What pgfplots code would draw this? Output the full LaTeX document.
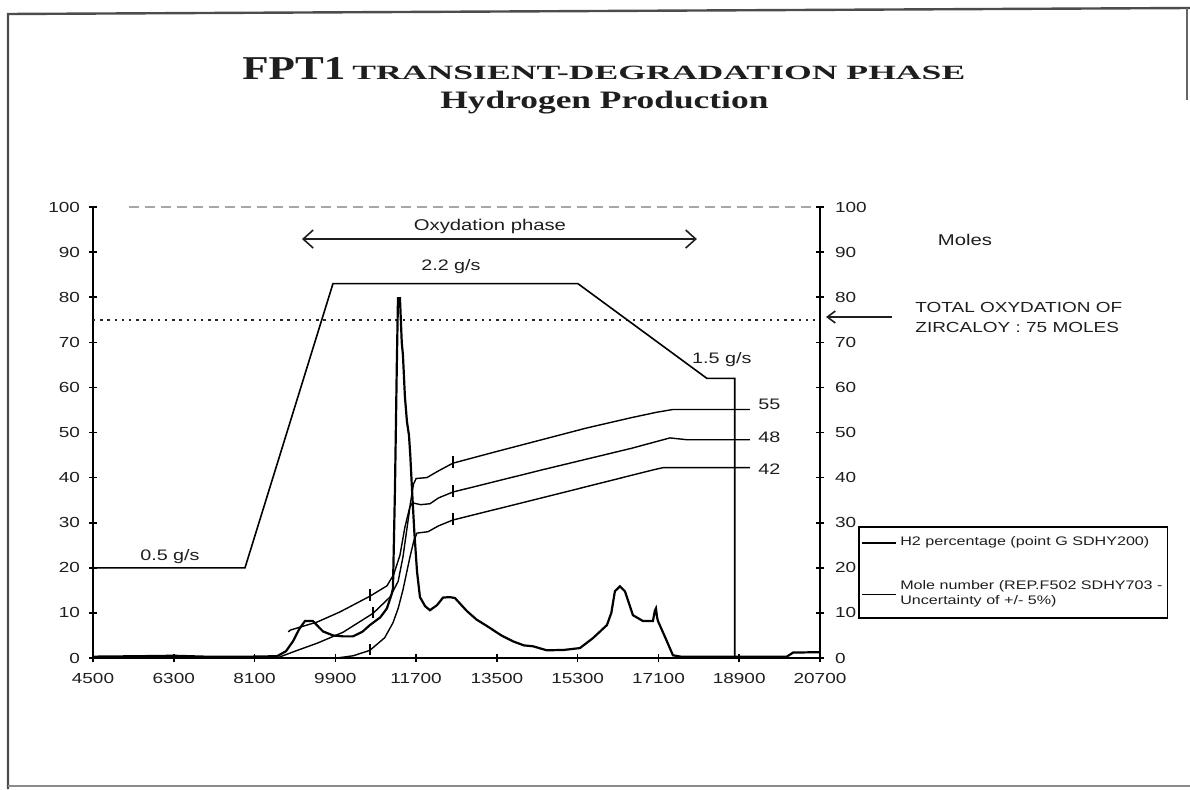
\documentclass[border=0pt]{standalone}
\usepackage{pgfplots}
\pgfplotsset{compat=1.18}
\usepackage{fontspec}
\usepackage{graphicx}
\setmainfont{Liberation Sans}[FakeStretch=1.3]
\newfontfamily\titlefont{Liberation Serif}
\usetikzlibrary{arrows.meta}
\definecolor{ink}{HTML}{1E1E1E}
\begin{document}
\begin{tikzpicture}[x=0.5pt,y=0.5pt]
\path[use as bounding box] (0,0) rectangle (1190,789);
% scanned page frame
\draw[line width=1.2pt, black!70] (8,0) -- (8,775) -- (1190,781);
\draw[line width=1pt, black!60] (1187,781) -- (1187,689);
\draw[line width=0.8pt, black!45] (8,3) -- (1190,3);
% title
\node[anchor=base west, inner sep=0pt, text=ink] at (242,709) {\titlefont\bfseries\resizebox{51.5pt}{11pt}{FPT1}};
\node[anchor=base west, inner sep=0pt, text=ink] at (352,709) {\titlefont\bfseries\resizebox{306.5pt}{6.7pt}{TRANSIENT-DEGRADATION PHASE}};
\node[anchor=base west, inner sep=0pt, text=ink] at (440,680) {\titlefont\bfseries\resizebox{164pt}{8.7pt}{Hydrogen Production}};
% right side texts
\node[text=ink, font=\fontsize{7.8}{9}\selectfont] at (965,549) {Moles};
\node[anchor=west, align=left, inner sep=0pt, text=ink, font=\fontsize{7.3}{10}\selectfont] at (915,472) {TOTAL OXYDATION OF\\ZIRCALOY : 75 MOLES};
\draw[line width=0.8pt, ink, -{Straight Barb[length=4pt,width=6pt]}] (892,472) -- (826,472);

\begin{axis}[
  at={(46.5pt,65.5pt)}, anchor=south west,
  width=363.5pt, height=225.5pt, scale only axis,
  xmin=4500, xmax=20700, ymin=0, ymax=100,
  clip=false,
  axis x line*=bottom, axis y line*=left,
  axis line style={-, line width=1pt, black},
  xtick={4500,6300,...,20700}, ytick={0,10,...,100},
  scaled x ticks=false,
  tick align=center, major tick length=4pt,
  tick style={line width=0.8pt, black},
  /pgf/number format/assume math mode=true,
  /pgf/number format/1000 sep={},
  xticklabel style={font=\fontsize{7.3}{8}\selectfont, text=ink, yshift=-2pt},
  yticklabel style={font=\fontsize{7.3}{8}\selectfont, text=ink, xshift=-1pt},
  legend style={at={(1.0523,0.2927)}, anchor=north west, draw=black, line width=0.9pt,
     font=\fontsize{6.2}{7.5}\selectfont, text=ink, row sep=12pt, inner xsep=1pt, inner ysep=3pt,
     nodes={align=left, inner xsep=1.5pt}},
  legend cell align=left,
  no marks,
]
% top dashed line at 100
\addplot[forget plot, gray!70, line width=0.7pt, dash pattern=on 5pt off 3pt] coordinates {(5300,100) (20700,100)};
% total oxidation dotted line
\addplot[forget plot, black!85, line width=0.8pt, dash pattern=on 1.2pt off 2.4pt] coordinates {(4500,75) (20700,75)};
% steam flow rate
\addplot[forget plot, black, line width=0.8pt] coordinates {
(4500,20) (7887,20) (9847,83) (15306,83) (18180,62) (18800,62) (18800,0)};
% H2 percentage
\addplot[black, line width=1.1pt] coordinates {
(4500,0.3) (5500,0.4) (6300,0.5) (7000,0.3) (8000,0.3) (8600,0.4) (8800,1.5) (8956,3.7)
(9100,6.5) (9223,8.2) (9400,8.2) (9624,5.9) (9850,5.0) (10070,4.8) (10293,4.8) (10500,5.8)
(10670,7.3) (10900,9.0) (11050,11.0) (11150,14) (11184,15.4) (11229,37.5) (11270,65)
(11296,79.8) (11340,79.8) (11380,70) (11407,67.1) (11450,58) (11496,52.4) (11541,49.4)
(11570,45) (11608,37.5) (11660,28) (11720,19.2) (11786,13.5) (11900,11.5) (12008,10.6)
(12164,11.7) (12300,13.4) (12450,13.5) (12565,13.3) (12832,10.4) (13050,8.5) (13278,7.1)
(13600,5.0) (13858,3.7) (14100,2.8) (14303,2.6) (14615,1.7) (15000,1.8) (15350,2.2)
(15640,4.4) (15952,7.3) (16050,10) (16130,14.8) (16242,15.9) (16353,14.8) (16531,9.5)
(16754,8.2) (16977,8.2) (17020,10.5) (17044,11.0) (17070,9) (17089,8.2) (17289,3.7)
(17423,0.6) (17600,0.3) (19960,0.3) (20100,1.2) (20700,1.3)};
\addlegendentry{H2 percentage (point G SDHY200)}
% mole number, central
\addplot[black, line width=0.7pt] coordinates {
(8600,0) (9000,1.5) (9500,3.3) (10070,5.7) (10740,9.9) (11117,13.5) (11300,17) (11407,22.4)
(11500,29) (11563,33.5) (11620,34.4) (11800,34) (12008,34.2) (12200,35.5) (12520,36.8)
(14500,41.7) (16500,46.5) (17356,48.8) (17734,48.4) (19140,48.4)};
\addlegendentry{Mole number (REP.F502 SDHY703 -\\Uncertainty of +/- 5\%)}
% mole number, upper bound
\addplot[forget plot, black, line width=0.7pt] coordinates {
(8850,5.8) (8900,6.2) (9500,8.0) (10000,10.2) (10670,13.7) (11050,16) (11200,18.5)
(11340,22.8) (11450,29) (11560,33.5) (11640,38.5) (11700,39.8) (11940,40.0) (12200,41.5)
(12520,43.2) (13500,45.8) (14500,48.4) (15500,51) (16500,53.3) (17066,54.5) (17420,55.1)
(19140,55.1)};
% mole number, lower bound
\addplot[forget plot, black, line width=0.7pt] coordinates {
(9935,0) (10300,0.5) (10670,1.7) (11000,4.5) (11184,7.8) (11300,11) (11407,15.1)
(11563,22.4) (11650,26) (11720,27.7) (11964,28.0) (12200,29.3) (12520,30.6) (14500,35.5)
(16977,41.7) (17200,42.2) (19140,42.2)};
% small vertical marks on the mole curves
\addplot[forget plot, black, line width=0.8pt] coordinates {(10670,12.7) (10670,15.2)};
\addplot[forget plot, black, line width=0.8pt] coordinates {(10740,8.9) (10740,11.4)};
\addplot[forget plot, black, line width=0.8pt] coordinates {(10670,0.7) (10670,3.2)};
\addplot[forget plot, black, line width=0.8pt] coordinates {(12520,42.2) (12520,44.7)};
\addplot[forget plot, black, line width=0.8pt] coordinates {(12520,35.8) (12520,38.3)};
\addplot[forget plot, black, line width=0.8pt] coordinates {(12520,29.6) (12520,32.1)};
% annotations
\draw[line width=0.8pt, ink, {Straight Barb[length=5pt,width=9pt]}-{Straight Barb[length=5pt,width=9pt]}] (axis cs:9157,92.9) -- (axis cs:17957,92.9);
\node[text=ink, font=\fontsize{7.8}{9}\selectfont] at (axis cs:13345,95.6) {Oxydation phase};
\node[text=ink, font=\fontsize{7.6}{9}\selectfont] at (axis cs:12476,86.7) {2.2 g/s};
\node[text=ink, font=\fontsize{7.6}{9}\selectfont] at (axis cs:18514,66.1) {1.5 g/s};
\node[text=ink, font=\fontsize{7.6}{9}\selectfont] at (axis cs:6215,22.4) {0.5 g/s};
\node[anchor=west, inner sep=0pt, text=ink, font=\fontsize{7.6}{9}\selectfont] at (axis cs:19320,56.3) {55};
\node[anchor=west, inner sep=0pt, text=ink, font=\fontsize{7.6}{9}\selectfont] at (axis cs:19320,49) {48};
\node[anchor=west, inner sep=0pt, text=ink, font=\fontsize{7.6}{9}\selectfont] at (axis cs:19320,41.9) {42};
\end{axis}

\begin{axis}[
  at={(46.5pt,65.5pt)}, anchor=south west,
  width=363.5pt, height=225.5pt, scale only axis,
  xmin=4500, xmax=20700, ymin=0, ymax=100,
  axis x line=none, axis y line*=right,
  axis line style={-, line width=1pt, black},
  ytick={0,10,...,100},
  tick align=center, major tick length=4pt,
  tick style={line width=0.8pt, black},
  /pgf/number format/assume math mode=true,
  yticklabel style={font=\fontsize{7.3}{8}\selectfont, text=ink, xshift=2pt},
]
\addplot[draw=none, forget plot] coordinates {(4500,0) (20700,100)};
\end{axis}
\end{tikzpicture}
\end{document}
